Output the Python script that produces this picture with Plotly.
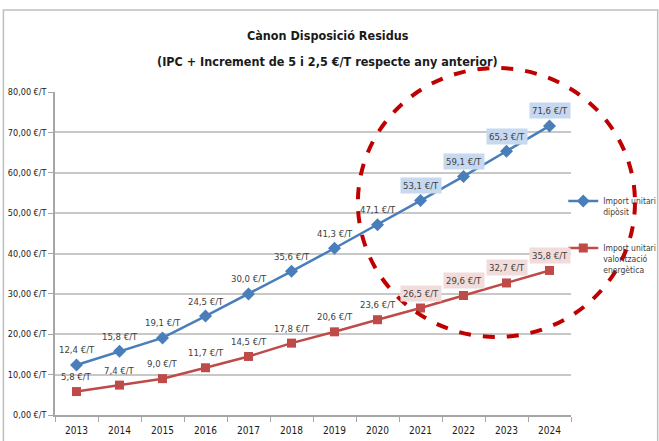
import plotly.graph_objects as go

years = ["2013", "2014", "2015", "2016", "2017", "2018", "2019", "2020", "2021", "2022", "2023", "2024"]
diposit = [12.4, 15.8, 19.1, 24.5, 30.0, 35.6, 41.3, 47.1, 53.1, 59.1, 65.3, 71.6]
valoritzacio = [5.8, 7.4, 9.0, 11.7, 14.5, 17.8, 20.6, 23.6, 26.5, 29.6, 32.7, 35.8]
highlight_years = ["2021", "2022", "2023", "2024"]
y_tickvals = [0, 10, 20, 30, 40, 50, 60, 70, 80]
y_ticktext = ["0,00 €/T", "10,00 €/T", "20,00 €/T", "30,00 €/T", "40,00 €/T",
              "50,00 €/T", "60,00 €/T", "70,00 €/T", "80,00 €/T"]
series_names = ["Import unitari<br>dipòsit", "Import unitari<br>valorització<br>energètica"]
title_lines = ["Cànon Disposició Residus", "(IPC + Increment de 5 i 2,5 €/T respecte any anterior)"]

FONT = "DejaVu Sans Condensed, Liberation Sans Narrow, sans-serif"
BLUE = "#4a7ebb"
RED = "#be4b48"

fig = go.Figure()
fig.add_trace(go.Scatter(
    x=years, y=diposit, name=series_names[0], mode="lines+markers",
    legendgroup="g1",
    line=dict(color=BLUE, width=2.5),
    marker=dict(symbol="diamond", size=10, color=BLUE),
))
fig.add_trace(go.Scatter(
    x=years, y=valoritzacio, name=series_names[1], mode="lines+markers",
    legendgroup="g2",
    line=dict(color=RED, width=2.5),
    marker=dict(symbol="square", size=9, color=RED),
))

def fmt(v):
    return f"{v:.1f}".replace(".", ",") + " €/T"

annotations = []
for vals, bg in [(diposit, "#c6d9f1"), (valoritzacio, "#f2dcdb")]:
    for i, (yr, v) in enumerate(zip(years, vals)):
        annotations.append(dict(
            x=i, y=v, xref="x", yref="y", text=fmt(v), showarrow=False,
            yshift=15, font=dict(family=FONT, size=9.5, color="#404040"),
            bgcolor=bg if yr in highlight_years else "rgba(0,0,0,0)",
            borderpad=2,
        ))

for line, ypos in zip(title_lines, [1.176, 1.093]):
    annotations.append(dict(
        x=0.529, y=ypos, xref="paper", yref="paper", text="<b>" + line + "</b>",
        showarrow=False, xanchor="center", yanchor="middle",
        font=dict(family=FONT, size=12.5, color="#1a1a1a"),
    ))

fig.update_layout(
    width=659, height=441,
    margin=dict(l=55, r=88, t=92, b=26, autoexpand=False),
    paper_bgcolor="white", plot_bgcolor="white",
    font=dict(family=FONT, color="#404040"),
    xaxis=dict(
        type="category", range=[-0.5, 11.5], showgrid=False, showline=True,
        linecolor="#a6a6a6", linewidth=1.5,
        ticks="outside", tickson="boundaries", ticklen=5, tickcolor="#a6a6a6",
        ticklabelstandoff=5,
        tickfont=dict(family=FONT, size=10, color="#1a1a1a"),
    ),
    yaxis=dict(
        range=[0, 80], tickvals=y_tickvals, ticktext=y_ticktext,
        showgrid=True, gridcolor="#c8c8c8", gridwidth=1.5,
        showline=True, linecolor="#a6a6a6", linewidth=1.5,
        ticks="outside", ticklen=5, tickcolor="#a6a6a6",
        tickfont=dict(family=FONT, size=9, color="#1a1a1a"),
        zeroline=False,
    ),
    legend=dict(
        x=0.985, xanchor="left", y=0.70, yanchor="top",
        font=dict(family=FONT, size=8.5, color="#404040"),
        valign="top", tracegroupgap=22, itemwidth=30,
        bgcolor="rgba(0,0,0,0)",
    ),
    annotations=annotations,
    shapes=[
        dict(type="rect", xref="paper", yref="paper",
             x0=-0.1, x1=1.168, y0=-0.2, y1=1.254,
             line=dict(color="#bfbfbf", width=1.5), layer="below"),
        dict(type="circle", xref="paper", yref="paper",
             x0=0.587, x1=1.124, y0=0.2415, y1=1.0743,
             line=dict(color="#c00000", width=4, dash="dash"), layer="above"),
    ],
)

fig.write_html("out.html", config={"displayModeBar": False},
               post_script="document.body.style.margin='0';")
